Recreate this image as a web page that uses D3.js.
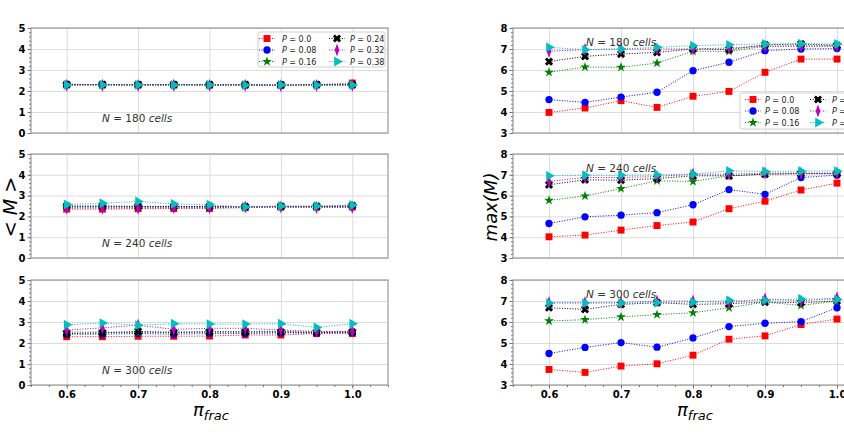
<!DOCTYPE html>
<html>
<head>
<meta charset="utf-8">
<script src="https://cdn.jsdelivr.net/npm/d3@7"></script>
<style>
  body { margin: 0; background: #fff; }
  svg text { font-family: "DejaVu Sans", sans-serif; }
  .tick text { font-weight: bold; font-size: 10px; fill: #000; }
</style>
</head>
<body>
<svg id="chart" width="844" height="443"></svg>
<script>
// x values shared by all panels
const piFrac = [0.6, 0.65, 0.7, 0.75, 0.8, 0.85, 0.9, 0.95, 1.0];
const pLabels = ["0.0", "0.08", "0.16", "0.24", "0.32", "0.38"];
const nLabels = ["180", "240", "300"];
const meanTicks = [0, 1, 2, 3, 4, 5];
const maxTicks = [3, 4, 5, 6, 7, 8];
const xTicks = [0.6, 0.7, 0.8, 0.9, 1.0];

// <M>, one row per P value (0.0, 0.08, 0.16, 0.24, 0.32, 0.38)
const meanM_N180 = [
    [2.30, 2.30, 2.30, 2.30, 2.29, 2.29, 2.27, 2.30, 2.38],
    [2.32, 2.31, 2.30, 2.31, 2.30, 2.30, 2.28, 2.31, 2.30],
    [2.30, 2.30, 2.30, 2.30, 2.30, 2.29, 2.28, 2.29, 2.29],
    [2.31, 2.31, 2.30, 2.30, 2.30, 2.30, 2.29, 2.31, 2.30],
    [2.27, 2.27, 2.26, 2.27, 2.27, 2.27, 2.25, 2.26, 2.27],
    [2.28, 2.29, 2.29, 2.28, 2.29, 2.28, 2.29, 2.28, 2.28]
];
const meanM_N240 = [
    [2.35, 2.35, 2.37, 2.38, 2.38, 2.42, 2.45, 2.45, 2.45],
    [2.45, 2.45, 2.45, 2.45, 2.45, 2.45, 2.47, 2.47, 2.48],
    [2.47, 2.47, 2.47, 2.47, 2.47, 2.46, 2.47, 2.47, 2.50],
    [2.50, 2.50, 2.48, 2.48, 2.48, 2.47, 2.48, 2.48, 2.52],
    [2.40, 2.40, 2.40, 2.42, 2.42, 2.45, 2.45, 2.43, 2.43],
    [2.57, 2.63, 2.72, 2.60, 2.56, 2.45, 2.50, 2.50, 2.55]
];
const meanM_N300 = [
    [2.30, 2.30, 2.32, 2.32, 2.33, 2.38, 2.38, 2.45, 2.45],
    [2.42, 2.42, 2.45, 2.42, 2.45, 2.45, 2.48, 2.48, 2.50],
    [2.52, 2.52, 2.50, 2.52, 2.55, 2.55, 2.55, 2.52, 2.55],
    [2.45, 2.48, 2.55, 2.50, 2.52, 2.52, 2.52, 2.50, 2.52],
    [2.62, 2.72, 2.85, 2.65, 2.70, 2.70, 2.62, 2.55, 2.55],
    [2.87, 2.95, 2.85, 2.92, 2.90, 2.90, 2.92, 2.74, 2.92]
];

// max(M), same row order
const maxM_N180 = [
    [3.98, 4.19, 4.54, 4.22, 4.75, 4.98, 5.89, 6.52, 6.52],
    [4.59, 4.46, 4.71, 4.94, 5.97, 6.37, 6.92, 7.00, 7.02],
    [5.89, 6.14, 6.13, 6.33, 6.89, 6.89, 7.13, 7.15, 7.15],
    [6.40, 6.65, 6.76, 6.84, 7.00, 6.97, 7.20, 7.24, 7.17],
    [6.89, 6.97, 7.00, 7.00, 7.00, 7.05, 7.13, 7.13, 7.13],
    [7.08, 6.97, 7.00, 7.08, 7.16, 7.20, 7.24, 7.25, 7.24]
];
const maxM_N240 = [
    [4.02, 4.10, 4.34, 4.56, 4.73, 5.37, 5.73, 6.27, 6.60],
    [4.66, 4.98, 5.06, 5.18, 5.56, 6.29, 6.06, 6.87, 6.98],
    [5.77, 5.98, 6.34, 6.71, 6.68, 6.95, 7.03, 7.05, 7.05],
    [6.52, 6.76, 6.74, 6.82, 6.95, 6.95, 7.03, 7.06, 7.06],
    [6.68, 6.87, 6.87, 6.92, 7.03, 7.03, 7.08, 7.08, 7.08],
    [6.95, 6.98, 6.98, 7.00, 7.03, 7.19, 7.16, 7.18, 7.18]
];
const maxM_N300 = [
    [3.74, 3.60, 3.90, 4.01, 4.42, 5.18, 5.34, 5.88, 6.14],
    [4.50, 4.79, 5.02, 4.80, 5.24, 5.78, 5.94, 6.02, 6.68],
    [6.05, 6.11, 6.24, 6.35, 6.44, 6.68, 6.95, 6.79, 7.00],
    [6.68, 6.60, 6.84, 6.92, 6.84, 6.87, 6.95, 6.92, 7.00],
    [6.92, 6.92, 6.92, 7.00, 7.00, 6.92, 7.10, 7.00, 7.15],
    [6.90, 6.90, 6.90, 6.92, 6.95, 7.03, 7.03, 7.10, 7.07]
];

const colors = ["#ff0000", "#0000ff", "#008000", "#000000", "#bf00bf", "#00bfbf"];

// marker shapes like matplotlib s, o, *, X, d, >
const markers = [
    { type: d3.symbolSquare, size: 48, rot: 0, sx: 1 },
    { type: d3.symbolCircle, size: 42, rot: 0, sx: 1 },
    { type: d3.symbolStar, size: 30, rot: 0, sx: 1 },
    { type: d3.symbolCross, size: 42, rot: 45, sx: 1 },
    { type: d3.symbolDiamond, size: 50, rot: 0, sx: 0.6 },
    { type: d3.symbolTriangle, size: 42, rot: 90, sx: 1 }
];

const svg = d3.select("#chart");

const colX = [[31, 388], [513, 873]];
const rowY = [[28, 133], [154, 258], [280, 385]];

const panels = [
    { col: 0, row: 0, data: meanM_N180, ticks: meanTicks, n: 0, legend: true },
    { col: 0, row: 1, data: meanM_N240, ticks: meanTicks, n: 1 },
    { col: 0, row: 2, data: meanM_N300, ticks: meanTicks, n: 2 },
    { col: 1, row: 0, data: maxM_N180, ticks: maxTicks, n: 0, legend: true },
    { col: 1, row: 1, data: maxM_N240, ticks: maxTicks, n: 1 },
    { col: 1, row: 2, data: maxM_N300, ticks: maxTicks, n: 2 }
];

function markerTransform(i, x, y) {
    const m = markers[i];
    return `translate(${x},${y}) rotate(${m.rot}) scale(${m.sx},1)`;
}

panels.forEach(p => {
    const [x0, x1] = colX[p.col];
    const [y0, y1] = rowY[p.row];

    const x = d3.scaleLinear().domain([0.55, 1.05]).range([x0, x1]);
    const y = d3.scaleLinear()
        .domain([p.ticks[0], p.ticks[p.ticks.length - 1]])
        .range([y1, y0]);

    const g = svg.append("g");

    // grid
    g.append("g")
        .attr("transform", `translate(0,${y1})`)
        .call(d3.axisBottom(x).tickValues(xTicks).tickSize(-(y1 - y0)).tickFormat(""))
        .call(a => a.select(".domain").remove())
        .selectAll("line").attr("stroke", "#dcdcdc");
    g.append("g")
        .attr("transform", `translate(${x0},0)`)
        .call(d3.axisLeft(y).tickValues(p.ticks).tickSize(-(x1 - x0)).tickFormat(""))
        .call(a => a.select(".domain").remove())
        .selectAll("line").attr("stroke", "#dcdcdc");

    // frame
    g.append("rect")
        .attr("x", x0).attr("y", y0)
        .attr("width", x1 - x0).attr("height", y1 - y0)
        .attr("fill", "none")
        .attr("stroke", "#999")
        .attr("stroke-width", 1.2);

    // y axis with minor ticks
    const yMinor = d3.range(p.ticks[0], p.ticks[p.ticks.length - 1] + 0.001, 0.2);
    g.append("g")
        .attr("transform", `translate(${x0},0)`)
        .call(d3.axisLeft(y).tickValues(yMinor).tickSize(2).tickFormat(""))
        .call(a => a.select(".domain").remove())
        .selectAll("line").attr("stroke", "#777");
    g.append("g")
        .attr("transform", `translate(${x0},0)`)
        .call(d3.axisLeft(y).tickValues(p.ticks).tickSize(3.5).tickPadding(2).tickFormat(d3.format("d")))
        .call(a => a.select(".domain").remove())
        .selectAll("line").attr("stroke", "#777");

    // x axis labels only on the bottom row
    if (p.row === 2) {
        const xMinor = d3.range(0.55, 1.0501, 0.025);
        g.append("g")
            .attr("transform", `translate(0,${y1})`)
            .call(d3.axisBottom(x).tickValues(xMinor).tickSize(2).tickFormat(""))
            .call(a => a.select(".domain").remove())
            .selectAll("line").attr("stroke", "#777");
        g.append("g")
            .attr("transform", `translate(0,${y1})`)
            .call(d3.axisBottom(x).tickValues(xTicks).tickSize(3.5).tickPadding(2).tickFormat(d3.format(".1f")))
            .call(a => a.select(".domain").remove())
            .selectAll("line").attr("stroke", "#777");
    }

    // series
    p.data.forEach((vals, i) => {
        const pts = vals.map((v, k) => [piFrac[k], v]);
        g.append("path")
            .datum(pts)
            .attr("fill", "none")
            .attr("stroke", colors[i])
            .attr("stroke-width", 1)
            .attr("stroke-dasharray", "1,1.6")
            .attr("d", d3.line().x(d => x(d[0])).y(d => y(d[1])));
        g.selectAll(null)
            .data(pts)
            .enter()
            .append("path")
            .attr("d", d3.symbol().type(markers[i].type).size(markers[i].size))
            .attr("transform", d => markerTransform(i, x(d[0]), y(d[1])))
            .attr("fill", colors[i]);
    });

    // N label
    const nx = p.col === 0 ? 102 : 586;
    const ny = p.col === 0 ? y1 - 11 : y0 + 18;
    const nt = g.append("text")
        .attr("x", nx).attr("y", ny)
        .attr("font-size", 10.5)
        .attr("fill", "#333");
    nt.append("tspan").attr("font-style", "italic").text("N");
    nt.append("tspan").text(` = ${nLabels[p.n]} `);
    nt.append("tspan").attr("font-style", "italic").text("cells");

    // legend
    if (p.legend) {
        const L = p.col === 0
            ? { x: 258, y: 32, w: 127, h: 35, mx: [267, 337], tx: [282, 350], ry: [38.5, 50, 61.5] }
            : { x: 740, y: 93, w: 140, h: 36, mx: [753, 818], tx: [765, 832], ry: [99.5, 111, 122.5] };
        g.append("rect")
            .attr("x", L.x).attr("y", L.y)
            .attr("width", L.w).attr("height", L.h)
            .attr("rx", 2)
            .attr("fill", "#fff").attr("fill-opacity", 0.85)
            .attr("stroke", "#d0d0d0");
        pLabels.forEach((lab, i) => {
            const c = Math.floor(i / 3), r = i % 3;
            const mx = L.mx[c], my = L.ry[r];
            g.append("line")
                .attr("x1", mx - 8).attr("x2", mx + 8)
                .attr("y1", my).attr("y2", my)
                .attr("stroke", colors[i])
                .attr("stroke-dasharray", "1,1.6");
            g.append("path")
                .attr("d", d3.symbol().type(markers[i].type).size(markers[i].size))
                .attr("transform", markerTransform(i, mx, my))
                .attr("fill", colors[i]);
            const t = g.append("text")
                .attr("x", L.tx[c]).attr("y", my + 3)
                .attr("font-size", 8)
                .attr("fill", "#222");
            t.append("tspan").attr("font-style", "italic").text("P");
            t.append("tspan").text(" = " + lab);
        });
    }
});

// axis titles
svg.append("text")
    .attr("transform", "translate(17,207) rotate(-90)")
    .attr("text-anchor", "middle")
    .attr("font-size", 19)
    .attr("font-style", "italic")
    .text("< M >");

svg.append("text")
    .attr("transform", "translate(497,207) rotate(-90)")
    .attr("text-anchor", "middle")
    .attr("font-size", 18)
    .attr("font-style", "italic")
    .text("max(M)");

[209, 693].forEach(cx => {
    const t = svg.append("text")
        .attr("x", cx - 16).attr("y", 416)
        .attr("font-size", 18)
        .attr("font-style", "italic");
    t.append("tspan").text("π");
    t.append("tspan").attr("font-size", 13).attr("dy", 4).text("frac");
});
</script>
</body>
</html>
